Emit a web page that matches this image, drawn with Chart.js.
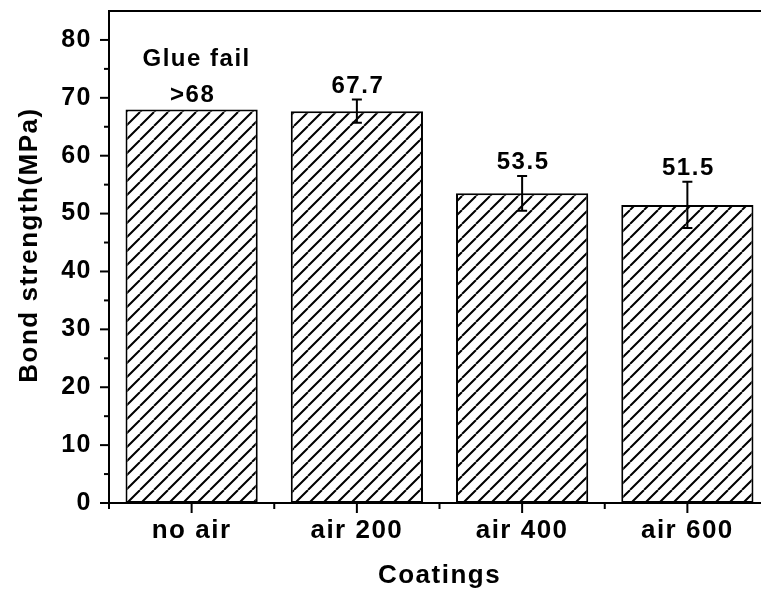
<!DOCTYPE html>
<html>
<head>
<meta charset="utf-8">
<script src="https://cdn.jsdelivr.net/npm/chart.js@4.4.0/dist/chart.umd.min.js"></script>
<style>
  html, body { margin: 0; padding: 0; background: #fff; overflow: hidden; }
  #wrap { position: relative; width: 790px; height: 595px; }
</style>
</head>
<body>
<div id="wrap"><canvas id="c" width="790" height="595"></canvas></div>
<script>
// Bond strength of the coatings (MPa)
const categories   = ['no air', 'air 200', 'air 400', 'air 600'];
const strength     = [68, 67.7, 53.5, 51.5];
const strengthErr  = [null, 2.0, 3.0, 4.0];
const valueLabels  = ['>68', '67.7', '53.5', '51.5'];
const noteLabels   = ['Glue fail', '', '', ''];
const yTickValues  = [0, 10, 20, 30, 40, 50, 60, 70, 80];
const yTitle       = 'Bond strength(MPa)';

const FONT = "'Liberation Sans', Arial, sans-serif";
const SPACING = '1.5px';

// diagonal "/" hatch used as the bar fill
function makeHatch() {
  const s = 14;
  const c = document.createElement('canvas');
  c.width = s; c.height = s;
  const g = c.getContext('2d');
  g.fillStyle = '#fff';
  g.fillRect(0, 0, s, s);
  g.strokeStyle = '#000';
  g.lineWidth = 2;
  g.beginPath();
  for (const k of [-s, 0, s]) {
    g.moveTo(k, s);
    g.lineTo(k + s, 0);
  }
  g.stroke();
  return g.createPattern(c, 'repeat');
}

// slightly wider letter spacing for all text on the canvas
const spacingPlugin = {
  id: 'spacing',
  beforeLayout(chart) { chart.ctx.letterSpacing = SPACING; },
  beforeDraw(chart) { chart.ctx.letterSpacing = SPACING; }
};

// frame, tick marks, error bars, y title and value labels
const decorPlugin = {
  id: 'decor',
  afterDatasetsDraw(chart) {
    const { ctx, scales: { y } } = chart;
    const meta = chart.getDatasetMeta(0);
    ctx.save();
    ctx.strokeStyle = '#000';
    ctx.lineWidth = 2;
    strength.forEach((v, i) => {
      const e = strengthErr[i];
      if (e == null) return;
      const px = meta.data[i].x;
      const yt = y.getPixelForValue(v + e);
      const yb = y.getPixelForValue(v - e);
      ctx.beginPath();
      ctx.moveTo(px, yt); ctx.lineTo(px, yb);
      ctx.moveTo(px - 5, yt); ctx.lineTo(px + 5, yt);
      ctx.moveTo(px - 5, yb); ctx.lineTo(px + 5, yb);
      ctx.stroke();
    });
    ctx.restore();
  },
  afterDraw(chart) {
    const { ctx, chartArea: a, scales: { x, y } } = chart;
    const meta = chart.getDatasetMeta(0);
    ctx.save();
    ctx.strokeStyle = '#000';
    ctx.lineWidth = 2;
    const seg = (x1, y1, x2, y2) => { ctx.beginPath(); ctx.moveTo(x1, y1); ctx.lineTo(x2, y2); ctx.stroke(); };

    // top and right edges of the frame
    ctx.beginPath();
    ctx.moveTo(a.left - 1, a.top);
    ctx.lineTo(a.right, a.top);
    ctx.lineTo(a.right, a.bottom);
    ctx.stroke();

    // y ticks: major at labels, minor halfway
    y.ticks.forEach((t, i) => {
      const py = y.getPixelForValue(t.value);
      seg(a.left - 9, py, a.left, py);
      if (i < y.ticks.length - 1) {
        const pm = y.getPixelForValue((t.value + y.ticks[i + 1].value) / 2);
        seg(a.left - 5, pm, a.left, pm);
      }
    });

    // x ticks: major at categories, minor at boundaries
    categories.forEach((c, i) => {
      const px = x.getPixelForValue(i);
      seg(px, a.bottom, px, a.bottom + 10);
    });
    for (let i = 0; i <= categories.length; i++) {
      const pb = x.getPixelForValue(i - 0.5);
      seg(pb, a.bottom, pb, a.bottom + 6);
    }

    ctx.fillStyle = '#000';
    ctx.letterSpacing = SPACING;

    // y axis title
    ctx.save();
    ctx.translate(30, (a.top + a.bottom) / 2 - 12);
    ctx.rotate(-Math.PI / 2);
    ctx.textAlign = 'center';
    ctx.textBaseline = 'middle';
    ctx.font = 'bold 26px ' + FONT;
    ctx.fillText(yTitle, 0, 0);
    ctx.restore();

    // value labels over each bar
    ctx.textAlign = 'center';
    ctx.textBaseline = 'alphabetic';
    ctx.font = 'bold 24px ' + FONT;
    strength.forEach((v, i) => {
      const top = v + (strengthErr[i] || 0);
      const px = meta.data[i].x + 1;
      const py = y.getPixelForValue(top) - 7;
      ctx.fillText(valueLabels[i], px, py);
      if (noteLabels[i]) ctx.fillText(noteLabels[i], px + 4, py - 36);
    });
    ctx.restore();
  }
};

const ctx = document.getElementById('c').getContext('2d');
new Chart(ctx, {
  type: 'bar',
  data: {
    labels: categories,
    datasets: [{
      data: strength,
      backgroundColor: makeHatch(),
      borderColor: '#000',
      borderWidth: 2,
      borderSkipped: false,
      categoryPercentage: 0.8,
      barPercentage: 1.0
    }]
  },
  options: {
    responsive: false,
    animation: false,
    devicePixelRatio: 1,
    layout: { padding: { top: 11, right: 20, left: 0, bottom: 0 } },
    plugins: { legend: { display: false }, tooltip: { enabled: false } },
    scales: {
      x: {
        grid: { display: false, drawTicks: false },
        border: { display: true, color: '#000', width: 2 },
        ticks: { color: '#000', padding: 12, font: { family: FONT, size: 26, weight: 'bold' } },
        title: {
          display: true, text: 'Coatings', color: '#000',
          font: { family: FONT, size: 26, weight: 'bold' },
          padding: { top: 0, bottom: 4 }
        },
        afterFit(s) { s.height = 92; s.paddingLeft = 0; s.paddingRight = 0; }
      },
      y: {
        min: 0, max: 85,
        grid: { display: false, drawTicks: false },
        border: { display: true, color: '#000', width: 2 },
        ticks: { color: '#000', padding: 17, font: { family: FONT, size: 25, weight: 'bold' } },
        afterBuildTicks(s) { s.ticks = yTickValues.map(v => ({ value: v })); },
        afterFit(s) { s.width = 109; s.paddingTop = 0; s.paddingBottom = 0; }
      }
    }
  },
  plugins: [spacingPlugin, decorPlugin]
});
</script>
</body>
</html>
